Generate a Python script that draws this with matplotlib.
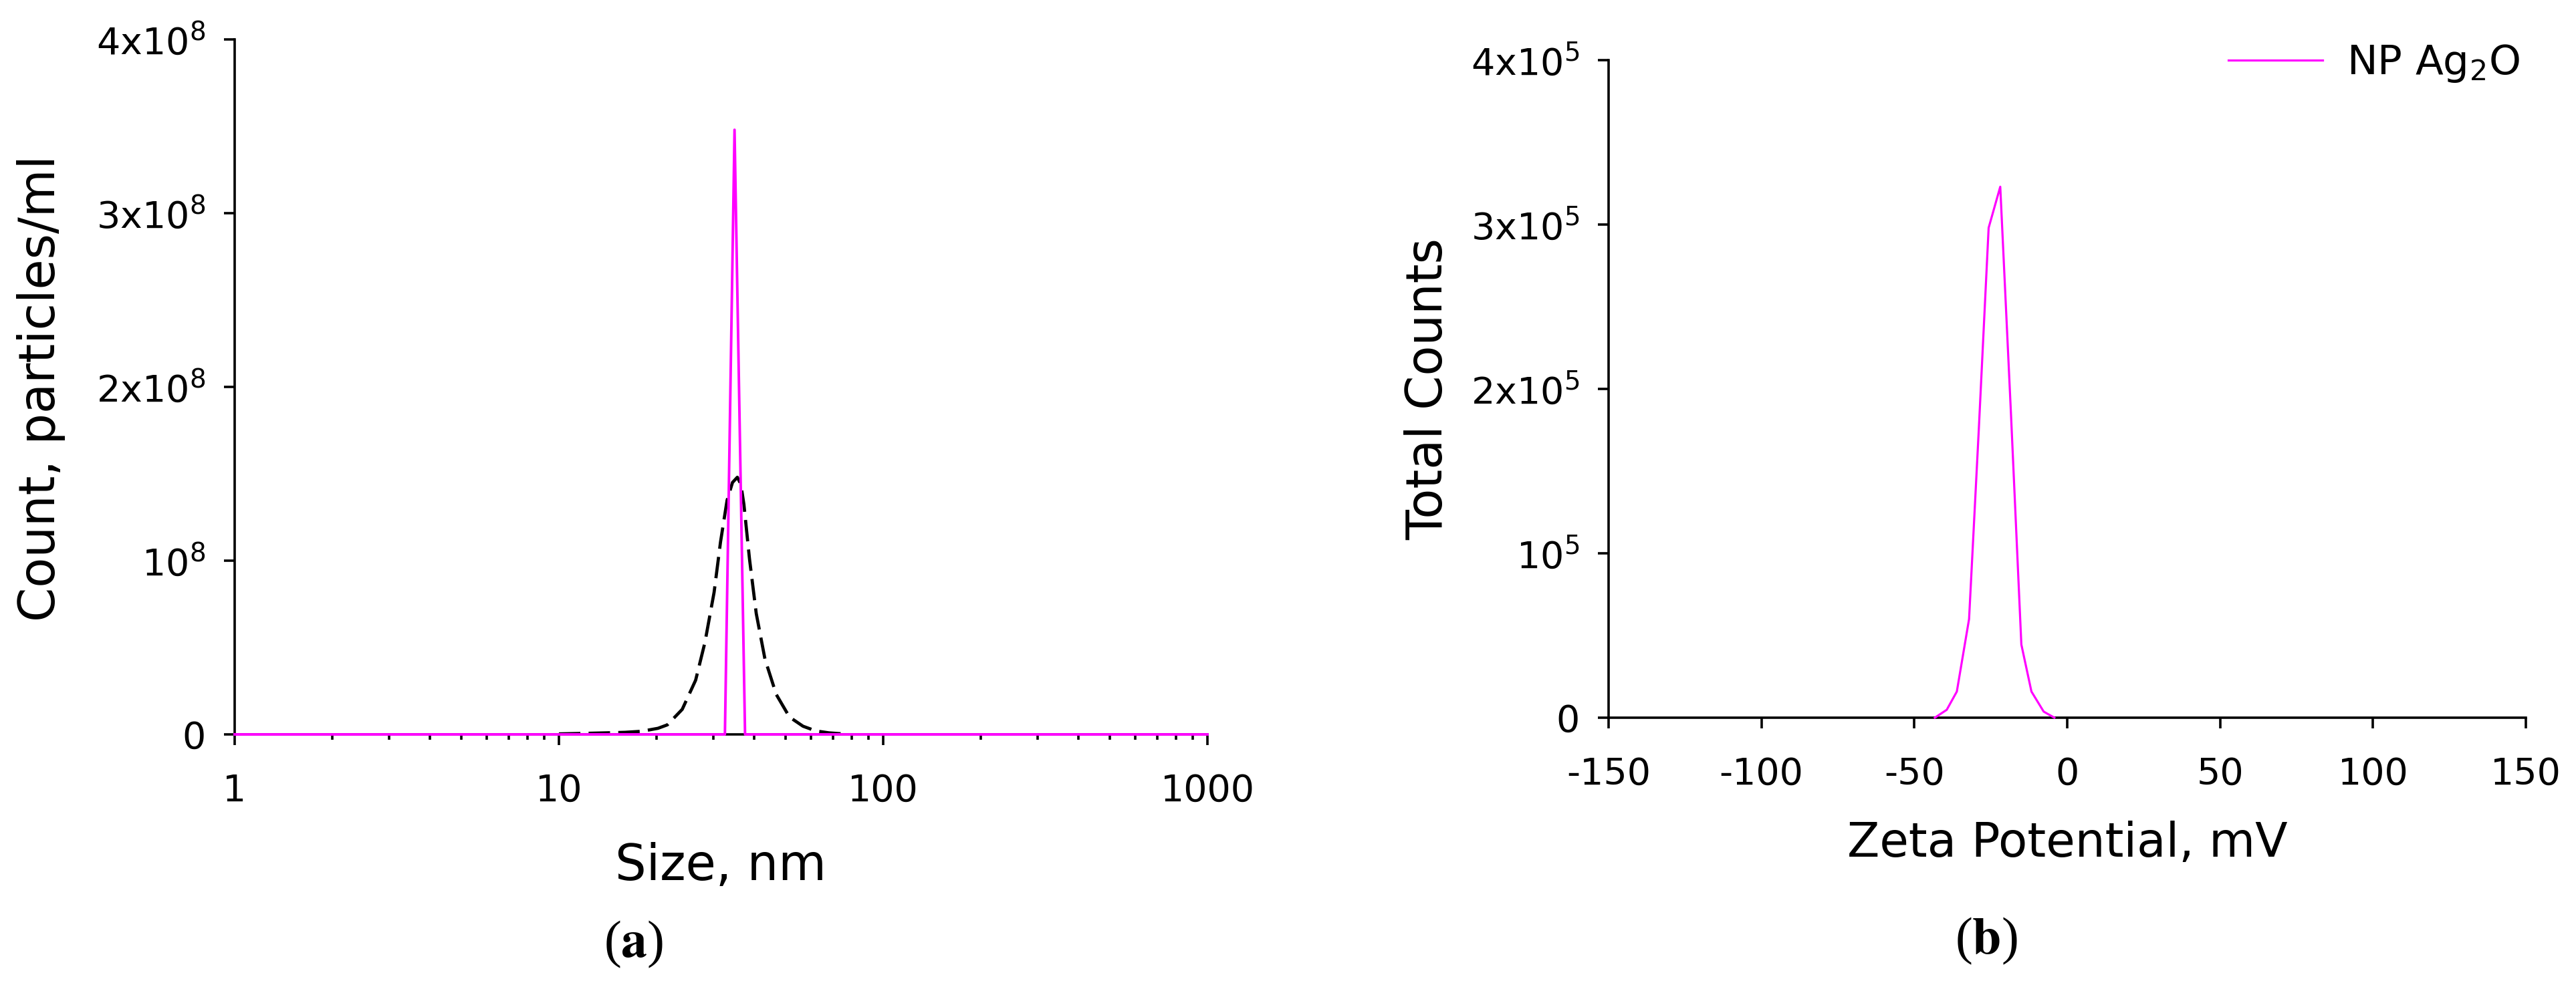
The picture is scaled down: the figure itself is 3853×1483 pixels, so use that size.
import matplotlib
matplotlib.use("Agg")
import matplotlib.pyplot as plt
from matplotlib.ticker import FixedLocator, FixedFormatter, LogLocator, NullFormatter

plt.rcParams['font.family'] = ['DejaVu Sans']
plt.rcParams['mathtext.fontset'] = 'dejavusans'

# (a) size distribution, log x
size_spike = [1, 32.5, 34.8, 37.5, 1000]
count_spike = [0, 0, 3.48e8, 0, 0]

size_fit = [10, 12, 14, 16, 18, 20.2, 21.6, 24, 26.4, 28.2, 30.1, 31.5, 33.0, 34.3,
            35.5, 36.4, 37.2, 38.7, 40.6, 43.2, 46.8, 51.4, 56.6, 62, 68, 76.7]
count_fit = [0.3e6, 0.6e6, 0.9e6, 1.2e6, 1.8e6, 3.5e6, 5.5e6, 1.44e7, 3.12e7, 5.29e7,
             8.18e7, 1.107e8, 1.347e8, 1.45e8, 1.48e8, 1.44e8, 1.323e8, 1.01e8, 6.96e7,
             4.33e7, 2.3e7, 1.0e7, 4.7e6, 2.0e6, 0.9e6, 0.2e6]

size_ticks = [1, 10, 100, 1000]
size_labels = ['1', '10', '100', '1000']
count_ticks = [0, 1e8, 2e8, 3e8, 4e8]
count_labels = ['0', '10$^{8}$', '2x10$^{8}$', '3x10$^{8}$', '4x10$^{8}$']

# (b) zeta potential
zeta = [-43.3, -39.4, -36.1, -32.1, -28.9, -25.7, -21.9, -18.4, -15.0, -11.7, -7.7, -4.2]
total_counts = [0, 4.8e3, 1.59e4, 6.0e4, 1.76e5, 2.98e5, 3.23e5, 1.85e5, 4.45e4, 1.59e4, 3.7e3, 0]

zeta_ticks = [-150, -100, -50, 0, 50, 100, 150]
counts_ticks = [0, 1e5, 2e5, 3e5, 4e5]
counts_labels = ['0', '10$^{5}$', '2x10$^{5}$', '3x10$^{5}$', '4x10$^{5}$']

W, H = 3853, 1483
fig = plt.figure(figsize=(W / 100, H / 100), dpi=100)

def fx(px):
    return px / W

def fy(py):
    return 1 - py / H

def style(ax):
    for s in ['top', 'right']:
        ax.spines[s].set_visible(False)
    for s in ['left', 'bottom']:
        ax.spines[s].set_linewidth(2.6)
        ax.spines[s].set_color('black')
    ax.tick_params(which='major', direction='out', length=11.5, width=2.6,
                   labelsize=40, color='black')
    ax.tick_params(which='minor', direction='out', length=6, width=2.6, color='black')
    ax.tick_params(axis='x', which='major', pad=30)
    ax.tick_params(axis='y', which='major', pad=20)

# left panel
ax1 = fig.add_axes([fx(351), fy(1099), fx(1806) - fx(351), fy(59) - fy(1099)])
ax1.plot(size_fit, count_fit, color='black', lw=3.4, ls=(0, (6.8, 2.6)), zorder=3, clip_on=False)
ax1.plot(size_spike, count_spike, color='#FF00FF', lw=2.8, zorder=4, clip_on=False)
ax1.set_xscale('log')
ax1.set_xlim(1, 1000)
ax1.set_ylim(0, 4e8)
ax1.xaxis.set_major_locator(FixedLocator(size_ticks))
ax1.xaxis.set_major_formatter(FixedFormatter(size_labels))
ax1.xaxis.set_minor_locator(LogLocator(base=10, subs=range(2, 10)))
ax1.xaxis.set_minor_formatter(NullFormatter())
ax1.yaxis.set_major_locator(FixedLocator(count_ticks))
ax1.yaxis.set_major_formatter(FixedFormatter(count_labels))
style(ax1)

# right panel
ax2 = fig.add_axes([fx(2406), fy(1074), fx(3778) - fx(2406), fy(90) - fy(1074)])
ax2.plot(zeta, total_counts, color='#FF00FF', lw=2.3, zorder=4, clip_on=False, label='NP Ag$_2$O')
ax2.set_xlim(-150, 150)
ax2.set_ylim(0, 4e5)
ax2.xaxis.set_major_locator(FixedLocator(zeta_ticks))
ax2.xaxis.set_major_formatter(FixedFormatter([str(v) for v in zeta_ticks]))
ax2.yaxis.set_major_locator(FixedLocator(counts_ticks))
ax2.yaxis.set_major_formatter(FixedFormatter(counts_labels))
style(ax2)
ax2.legend(loc='center left', bbox_to_anchor=(fx(3333), fy(95)), bbox_transform=fig.transFigure,
           frameon=False, fontsize=44, handlelength=2.3, handletextpad=0.6,
           borderpad=0, borderaxespad=0)

# axis titles and captions
fig.text(fx(62), fy(581), 'Count, particles/ml', rotation=90, ha='center', va='center', fontsize=53)
fig.text(fx(1078), fy(1297), 'Size, nm', ha='center', va='center', fontsize=53)
fig.text(fx(2137), fy(582), 'Total Counts', rotation=90, ha='center', va='center', fontsize=53)
fig.text(fx(3092), fy(1262), 'Zeta Potential, mV', ha='center', va='center', fontsize=51)
fig.text(fx(948), fy(1413), '($\\mathbf{a}$)', ha='center', va='center', fontsize=56,
         family='Liberation Serif', math_fontfamily='stix')
fig.text(fx(2971), fy(1408), '($\\mathbf{b}$)', ha='center', va='center', fontsize=56,
         family='Liberation Serif', math_fontfamily='stix')

fig.savefig('out.png', dpi=100, facecolor='white')
